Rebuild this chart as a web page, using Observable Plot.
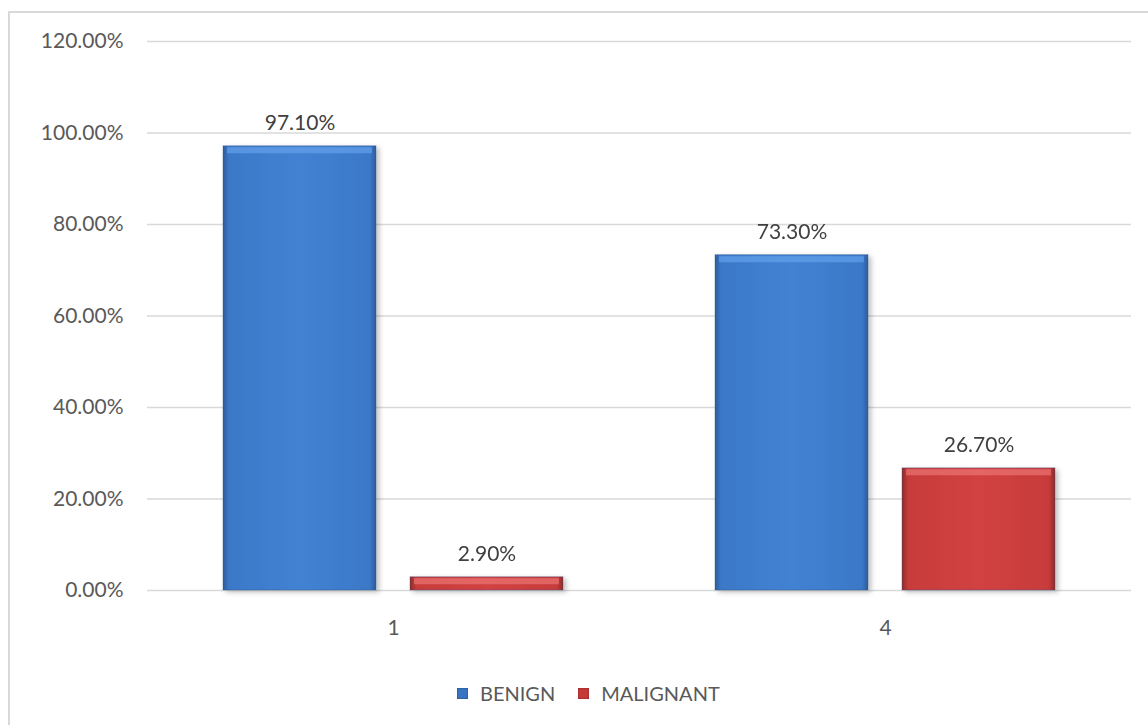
<!DOCTYPE html>
<html>
<head>
<meta charset="utf-8">
<script src="https://cdn.jsdelivr.net/npm/d3@7"></script>
<script src="https://cdn.jsdelivr.net/npm/@observablehq/plot@0.6"></script>
<style>
  html, body { margin: 0; padding: 0; background: #fff; }
  #wrap { position: relative; width: 1148px; height: 725px; overflow: hidden; font-family: Lato, "Open Sans", sans-serif; }
  #frame { position: absolute; left: 8px; top: 11px; width: 1200px; height: 800px; border-left: 2px solid #d9d9d9; border-top: 2px solid #d9d9d9; }
  #chart { position: absolute; left: 0; top: 0; }
  #legend { position: absolute; left: 457px; top: 681px; display: flex; align-items: center; font-size: 20px; color: #595959; white-space: nowrap; }
  .sw { display: inline-block; width: 11px; height: 11px; margin-right: 12px; }
  .item { display: flex; align-items: center; margin-right: 23px; }
</style>
</head>
<body>
<div id="wrap">
  <div id="frame"></div>
  <div id="chart"></div>
  <div id="legend"></div>
</div>
<script>
const groups = ["1", "4"];
const series = ["BENIGN", "MALIGNANT"];
const benign = [0.971, 0.733];
const malignant = [0.029, 0.267];
const yTicks = [0, 0.2, 0.4, 0.6, 0.8, 1.0, 1.2];
const seriesFill = ["url(#gBlue)", "url(#gRed)"];
const seriesTop = ["#6aa6f0", "#f07e7c"];
const seriesSwatch = ["#3a74c4", "#c83a38"];

const table = [];
groups.forEach((g, i) => {
  table.push({group: g, series: series[0], value: benign[i]});
  table.push({group: g, series: series[1], value: malignant[i]});
});

const fmt = d3.format(".2%");

const chart = Plot.plot({
  width: 1148,
  height: 660,
  marginLeft: 146,
  marginRight: 17,
  marginTop: 41,
  marginBottom: 70,
  style: {fontFamily: "Lato, 'Open Sans', sans-serif", fontSize: "21px", color: "#595959", background: "transparent", overflow: "visible"},
  fx: {domain: groups, padding: 0, label: null, axis: "bottom", tickSize: 0, tickPadding: 30},
  x: {domain: series, paddingInner: 0.182, paddingOuter: 0.406, axis: null},
  y: {domain: [0, 1.2], ticks: yTicks, tickFormat: fmt, tickSize: 0, tickPadding: 24, label: null},
  color: {type: "ordinal", domain: series, range: seriesFill},
  marks: [
    Plot.gridY(yTicks, {stroke: "#d9d9d9", strokeOpacity: 1, strokeWidth: 1.5}),
    Plot.barY(table, {fx: "group", x: "series", y: "value", fill: "series", stroke: "#2b4f80", strokeOpacity: 0.35, strokeWidth: 1}),
    Plot.tickY(table, {fx: "group", x: "series", y: "value", stroke: d => seriesTop[series.indexOf(d.series)], strokeWidth: 6, dy: 4, insetLeft: 4, insetRight: 4, strokeOpacity: 0.6}),
    Plot.text(table, {fx: "group", x: "series", y: "value", text: d => fmt(d.value), lineAnchor: "bottom", dy: -16, fill: "#404040", fontSize: 21})
  ]
});

// gradients
const svgNS = "http://www.w3.org/2000/svg";
const defs = document.createElementNS(svgNS, "defs");
function grad(id, edge, mid, light) {
  const lg = document.createElementNS(svgNS, "linearGradient");
  lg.setAttribute("id", id);
  lg.setAttribute("x1", "0"); lg.setAttribute("x2", "1"); lg.setAttribute("y1", "0"); lg.setAttribute("y2", "0");
  [[0, edge], [0.04, mid], [0.5, light], [0.96, mid], [1, edge]].forEach(([o, c]) => {
    const s = document.createElementNS(svgNS, "stop");
    s.setAttribute("offset", o);
    s.setAttribute("stop-color", c);
    lg.appendChild(s);
  });
  defs.appendChild(lg);
}
grad("gBlue", "#2d5c9c", "#3b78c8", "#4282d2");
grad("gRed", "#8f2a2a", "#c73b3b", "#d24242");
const filt = document.createElementNS(svgNS, "filter");
filt.setAttribute("id", "shadow");
filt.setAttribute("x", "-10%"); filt.setAttribute("y", "-10%"); filt.setAttribute("width", "130%"); filt.setAttribute("height", "130%");
const ds = document.createElementNS(svgNS, "feDropShadow");
ds.setAttribute("dx", "3"); ds.setAttribute("dy", "2"); ds.setAttribute("stdDeviation", "2.5"); ds.setAttribute("flood-color", "#000"); ds.setAttribute("flood-opacity", "0.25");
filt.appendChild(ds);
defs.appendChild(filt);
chart.insertBefore(defs, chart.firstChild);
chart.querySelectorAll('g[aria-label="bar"]').forEach(g => g.setAttribute("filter", "url(#shadow)"));

document.getElementById("chart").appendChild(chart);

const legend = document.getElementById("legend");
series.forEach((s, i) => {
  const item = document.createElement("div");
  item.className = "item";
  const sw = document.createElement("span");
  sw.className = "sw";
  sw.style.background = seriesSwatch[i];
  sw.style.boxShadow = "inset 0 0 2px rgba(0,0,0,0.5)";
  const t = document.createElement("span");
  t.textContent = s;
  item.appendChild(sw);
  item.appendChild(t);
  legend.appendChild(item);
});
</script>
</body>
</html>
